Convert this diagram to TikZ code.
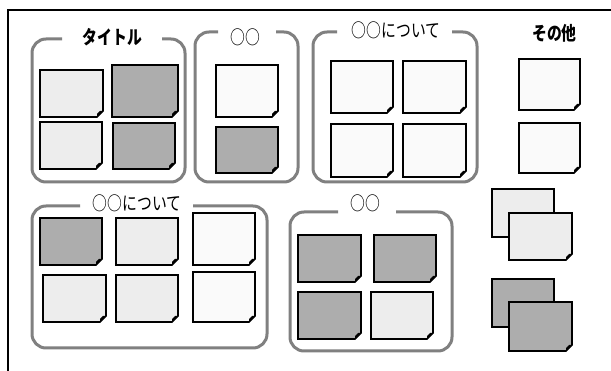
\documentclass[tikz,border=0pt]{standalone}
\usepackage{fontspec}
\newfontfamily\jpfont{Noto Sans CJK JP}[FakeStretch=0.78]
\definecolor{cLight}{HTML}{EDEDED}
\definecolor{cDark}{HTML}{ADADAD}
\definecolor{cWhite}{HTML}{FAFAFA}
\definecolor{cFrame}{HTML}{808080}
\newcommand\mycard[5]{%
  \filldraw[fill=#5,draw=black,line width=1.6pt,line join=miter]
    (#1,#2) -- (#3,#2) -- (#3,#4-6) -- (#3-6,#4) -- (#1,#4) -- cycle;
  \fill[black] (#3,#4-6) -- (#3-6,#4) -- (#3-6,#4-3) -- (#3-3,#4-6) -- cycle;}
\newcommand\mybackcard[5]{%
  \filldraw[fill=#5,draw=black,line width=1.6pt] (#1,#2) rectangle (#3,#4);}
\newcommand\mygroup[6]{% left top right bottom gapL gapR
  \draw[groupline] (#6,#2) -- (#3,#2) -- (#3,#4) -- (#1,#4) -- (#1,#2) -- (#5,#2);}
\tikzset{
  groupline/.style={draw=cFrame,line width=3pt,rounded corners=14pt},
  grouptitle/.style={font=\jpfont\fontsize{19}{20}\selectfont,inner sep=0pt,anchor=center},
  boldtitle/.style={grouptitle,font=\jpfont\bfseries\fontsize{19}{20}\selectfont}
}
\begin{document}
\begin{tikzpicture}[x=1pt,y=-1pt]
\useasboundingbox (0,0) rectangle (611,371);
\fill[white] (0,0) rectangle (611,371);
% outer frame
\draw[line width=1.3pt] (8,371) -- (8,10) -- (611,10);
% group 1
\mygroup{32}{39}{185}{182}{62}{162}
\node[boldtitle] (t1) at (112.5,37) {タイトル};
\mycard{40}{70}{103}{117}{cLight}
\mycard{112}{65}{178}{117}{cDark}
\mycard{40}{122}{102}{169}{cLight}
\mycard{113}{123}{175}{169}{cDark}
% group 2
\mygroup{195}{32}{298}{182}{218}{276}
\node[grouptitle] (t2) at (245,37) {○○};
\mycard{216}{65}{278}{117}{cWhite}
\mycard{216}{127}{278}{173}{cDark}
% group 3
\mygroup{313}{32}{477}{182}{337}{452}
\node[grouptitle] (t3) at (396,30) {○○について};
\mycard{331}{61}{393}{113}{cWhite}
\mycard{403}{61}{466}{113}{cWhite}
\mycard{331}{124}{393}{177}{cWhite}
\mycard{403}{124}{466}{177}{cWhite}
% others
\node[boldtitle] (t4) at (554.5,33) {その他};
\mycard{519}{59}{580}{110}{cWhite}
\mycard{519}{123}{580}{173}{cWhite}
% group 4
\mygroup{32}{206}{267}{348}{80}{193}
\node[grouptitle] (t5) at (137,203.5) {○○について};
\mycard{40}{218}{102}{265}{cDark}
\mycard{116}{218}{178}{265}{cLight}
\mycard{193}{213}{255}{265}{cWhite}
\mycard{43}{275}{106}{322}{cLight}
\mycard{116}{275}{178}{322}{cLight}
\mycard{193}{272}{255}{322}{cWhite}
% group 5
\mygroup{290}{212}{452}{351}{338}{396}
\node[grouptitle] (t6) at (365,203) {○○};
\mycard{298}{235}{361}{282}{cDark}
\mycard{374}{235}{436}{282}{cDark}
\mycard{298}{292}{361}{339}{cDark}
\mycard{371}{292}{433}{339}{cLight}
% stacked
\mybackcard{492}{189}{554}{237}{cLight}
\mycard{509}{213}{572}{260}{cLight}
\mybackcard{492}{279}{554}{327}{cDark}
\mycard{509}{302}{572}{351}{cDark}
\end{tikzpicture}
\end{document}
